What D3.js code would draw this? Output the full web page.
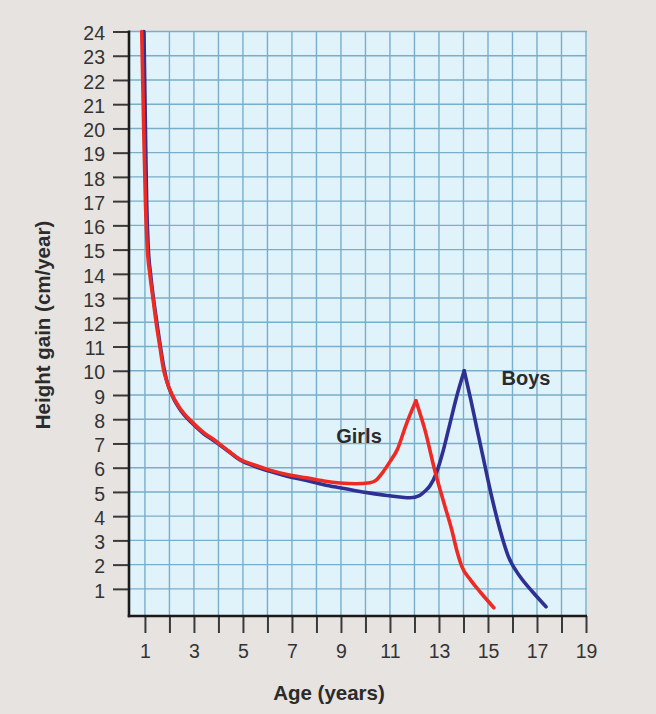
<!DOCTYPE html>
<html>
<head>
<meta charset="utf-8">
<script src="https://cdn.jsdelivr.net/npm/d3@7"></script>
<style>
  html, body { margin: 0; padding: 0; background: #e7e3e0; }
  svg { display: block; }
  text { font-family: "Liberation Sans", Arial, sans-serif; }
</style>
</head>
<body>
<svg id="chart" width="656" height="714"></svg>
<script>
// ---- data ----
const ageTicks = d3.range(1, 20);               // 1..19
const ageLabels = [1, 3, 5, 7, 9, 11, 13, 15, 17, 19];
const gainTicks = d3.range(1, 25);              // 1..24

const girlsAge  = [0.87, 0.95, 1.02, 1.10, 1.20, 1.34, 1.47, 1.61, 1.75, 1.88, 2.09, 2.40, 2.96, 3.40, 3.86, 4.40, 4.88, 5.50, 6.10, 6.80, 7.60, 8.30, 8.96, 9.60, 10.18, 10.45, 10.70, 11.00, 11.30, 11.65, 12.06, 12.43, 12.84, 13.20, 13.52, 13.75, 13.93, 14.30, 14.70, 15.24];
const girlsGain = [24.0, 20.0, 17.0, 15.0, 14.0, 12.9, 11.9, 11.0, 10.1, 9.6, 9.05, 8.5, 7.85, 7.45, 7.12, 6.7, 6.35, 6.1, 5.9, 5.72, 5.58, 5.45, 5.37, 5.34, 5.38, 5.5, 5.8, 6.25, 6.75, 7.75, 8.76, 7.55, 5.84, 4.55, 3.44, 2.5, 1.93, 1.35, 0.85, 0.22];

const boysAge  = [0.96, 1.02, 1.07, 1.14, 1.23, 1.36, 1.50, 1.63, 1.78, 1.90, 2.10, 2.40, 2.96, 3.40, 3.86, 4.40, 4.88, 5.50, 6.10, 6.80, 7.60, 8.30, 8.96, 9.60, 10.20, 10.80, 11.40, 11.82, 12.22, 12.45, 12.63, 12.90, 13.18, 13.45, 13.72, 14.03, 14.30, 14.54, 14.85, 15.15, 15.49, 15.83, 16.30, 16.80, 17.37];
const boysGain = [24.0, 20.0, 17.0, 15.0, 14.0, 12.9, 11.9, 11.0, 10.1, 9.55, 9.0, 8.45, 7.8, 7.4, 7.08, 6.68, 6.32, 6.05, 5.85, 5.65, 5.47, 5.3, 5.17, 5.05, 4.95, 4.86, 4.79, 4.76, 4.86, 5.05, 5.25, 5.8, 6.73, 7.83, 8.93, 10.0, 8.8, 7.65, 6.2, 4.81, 3.44, 2.34, 1.52, 0.9, 0.26];

const seriesNames = ["Boys", "Girls"];
const seriesColors = ["#2e3192", "#ee2a24"];

// ---- layout ----
const svg = d3.select("#chart");
const W = 656, H = 714;
const pLeft = 129, pRight = 587, pTop = 31.5, pBottom = 616;

svg.append("rect").attr("width", W).attr("height", H).attr("fill", "#e7e3e0");

const x = d3.scaleLinear().domain([0.35, 19]).range([pLeft, 586]);
const y = d3.scaleLinear().domain([-0.12, 24]).range([pBottom, pTop]);

// plot background
svg.append("rect")
  .attr("x", pLeft).attr("y", pTop)
  .attr("width", pRight - pLeft).attr("height", pBottom - pTop)
  .attr("fill", "#e0f3fb");

// grid
const grid = svg.append("g").attr("stroke", "#78aeca").attr("stroke-width", 1.4);
grid.selectAll("line.v").data(ageTicks).join("line").attr("class", "v")
  .attr("x1", d => x(d)).attr("x2", d => x(d))
  .attr("y1", pTop).attr("y2", pBottom);
grid.selectAll("line.h").data(gainTicks).join("line").attr("class", "h")
  .attr("x1", pLeft).attr("x2", pRight)
  .attr("y1", d => y(d)).attr("y2", d => y(d));

// curves
function drawSeries(ages, gains, color) {
  const pts = ages.map((a, i) => [a, gains[i]]);
  // split at the growth-spurt peak (max after age 8) so the peak stays pointed
  let peak = -1;
  pts.forEach((p, i) => { if (p[0] > 8 && (peak < 0 || p[1] > pts[peak][1])) peak = i; });
  const line = d3.line().x(d => x(d[0])).y(d => y(d[1])).curve(d3.curveMonotoneX);
  [pts.slice(0, peak + 1), pts.slice(peak)].forEach(seg => {
    svg.append("path").datum(seg)
      .attr("d", line)
      .attr("fill", "none")
      .attr("stroke", color)
      .attr("stroke-width", 3.6)
      .attr("stroke-linejoin", "round")
      .attr("stroke-linecap", "round");
  });
}
drawSeries(boysAge, boysGain, seriesColors[0]);
drawSeries(girlsAge, girlsGain, seriesColors[1]);

// axes
const yAxis = d3.axisLeft(y).tickValues(gainTicks).tickSize(16).tickPadding(8);
const gy = svg.append("g").attr("transform", `translate(${pLeft},0)`).call(yAxis);
gy.select(".domain").remove();
gy.selectAll(".tick line").attr("stroke", "#3a3a3a").attr("stroke-width", 2);
gy.selectAll(".tick text").attr("font-size", 19.5).attr("fill", "#333").attr("dy", "0.42em")
  .style("font-family", "'Liberation Sans', Arial, sans-serif");

const xAxis = d3.axisBottom(x).tickValues(ageTicks).tickSize(17)
  .tickFormat(d => ageLabels.includes(d) ? String(d) : "");
const gx = svg.append("g").attr("transform", `translate(0,${pBottom})`).call(xAxis);
gx.select(".domain").remove();
gx.selectAll(".tick line").attr("stroke", "#3a3a3a").attr("stroke-width", 2);
gx.selectAll(".tick text").attr("font-size", 19.5).attr("fill", "#333").attr("y", 42).attr("dy", 0)
  .style("font-family", "'Liberation Sans', Arial, sans-serif");

// axis lines
svg.append("line").attr("x1", pLeft).attr("x2", pLeft).attr("y1", pTop - 1).attr("y2", pBottom + 1.2)
  .attr("stroke", "#1a1a1a").attr("stroke-width", 2.6);
svg.append("line").attr("x1", pLeft - 1.2).attr("x2", pRight).attr("y1", pBottom).attr("y2", pBottom)
  .attr("stroke", "#1a1a1a").attr("stroke-width", 2.6);

// titles
svg.append("text")
  .attr("x", 329).attr("y", 700)
  .attr("text-anchor", "middle")
  .attr("font-size", 20.5).attr("font-weight", "bold").attr("fill", "#2b2b2b")
  .text("Age (years)");
svg.append("text")
  .attr("transform", "translate(50,325) rotate(-90)")
  .attr("text-anchor", "middle")
  .attr("font-size", 20.5).attr("font-weight", "bold").attr("fill", "#2b2b2b")
  .text("Height gain (cm/year)");

// series labels
svg.append("text").attr("x", 526).attr("y", 384.5).attr("text-anchor", "middle")
  .attr("font-size", 20).attr("font-weight", "bold").attr("fill", "#2b2b2b").text(seriesNames[0]);
svg.append("text").attr("x", 359).attr("y", 442.5).attr("text-anchor", "middle")
  .attr("font-size", 20).attr("font-weight", "bold").attr("fill", "#2b2b2b").text(seriesNames[1]);
</script>
</body>
</html>
